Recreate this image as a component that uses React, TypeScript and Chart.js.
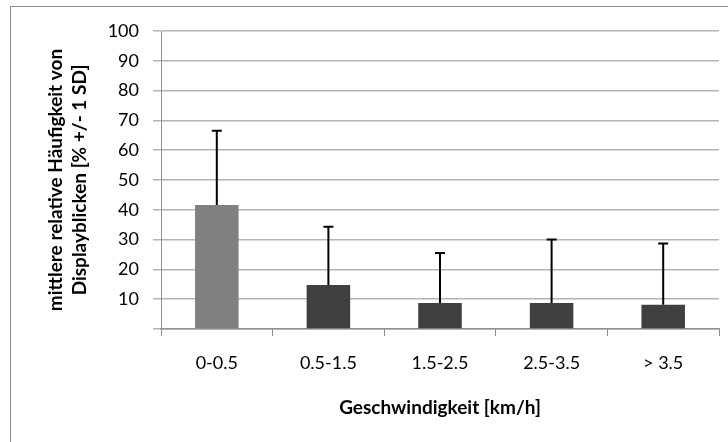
import { Chart, registerables } from 'chart.js'
import { useEffect, useRef } from 'react'

Chart.register(...registerables)

const speedBins = ['0-0.5', '0.5-1.5', '1.5-2.5', '2.5-3.5', '> 3.5']
const meanGlances = [41.6, 14.8, 8.7, 8.7, 8.1]
const sdGlances = [24.9, 19.5, 16.8, 21.3, 20.6]
const barColors = ['#808080', '#404040', '#404040', '#404040', '#404040']

const FONT = 'Lato, "Open Sans", sans-serif'

// draws the +1 SD whisker above each bar
const errorBars = {
  id: 'errorBars',
  afterDatasetsDraw(chart: Chart) {
    const { ctx } = chart
    const yScale = chart.scales.y
    const meta = chart.getDatasetMeta(0)
    ctx.save()
    ctx.strokeStyle = '#000000'
    ctx.lineWidth = 2
    meta.data.forEach((bar: any, i: number) => {
      const top = yScale.getPixelForValue(meanGlances[i] + sdGlances[i])
      ctx.beginPath()
      ctx.moveTo(bar.x, bar.y)
      ctx.lineTo(bar.x, top)
      ctx.moveTo(bar.x - 5, top)
      ctx.lineTo(bar.x + 5, top)
      ctx.stroke()
    })
    ctx.restore()
  },
}

export default function App() {
  const chartRef = useRef<HTMLCanvasElement>(null)
  const chartInstance = useRef<Chart | null>(null)

  useEffect(() => {
    if (!chartRef.current) return
    if (chartInstance.current) chartInstance.current.destroy()

    chartInstance.current = new Chart(chartRef.current, {
      type: 'bar',
      data: {
        labels: speedBins,
        datasets: [
          {
            data: meanGlances,
            backgroundColor: barColors,
            categoryPercentage: 1,
            barPercentage: 0.39,
          },
        ],
      },
      options: {
        responsive: true,
        maintainAspectRatio: false,
        animation: false,
        layout: { padding: { top: 31, right: 9, left: 0, bottom: 0 } },
        plugins: {
          legend: { display: false },
          tooltip: { enabled: false },
        },
        scales: {
          x: {
            afterFit: (scale: any) => {
              scale.height = 113
            },
            grid: {
              offset: true,
              drawOnChartArea: false,
              drawTicks: true,
              tickLength: 7,
              color: '#909090',
              lineWidth: 1,
            },
            border: { color: '#909090', width: 1.5 },
            ticks: {
              color: '#000000',
              padding: 16,
              font: { family: FONT, size: 18 },
            },
            title: {
              display: true,
              text: 'Geschwindigkeit [km/h]',
              color: '#000000',
              font: { family: FONT, size: 19, weight: 'bold' },
              padding: { top: 0, bottom: 23 },
            },
          },
          y: {
            min: 0,
            max: 100,
            afterFit: (scale: any) => {
              scale.width = 161
            },
            grid: {
              color: '#b4b4b4',
              lineWidth: 1.5,
              tickLength: 8,
            },
            border: { color: '#909090', width: 1 },
            ticks: {
              stepSize: 10,
              color: '#000000',
              padding: 14,
              font: { family: FONT, size: 18 },
              callback: (v: any) => (v === 0 ? '' : v),
            },
            title: {
              display: true,
              text: ['mittlere relative Häufigkeit von', 'Displayblicken [% +/- 1 SD]'],
              color: '#000000',
              font: { family: FONT, size: 19, weight: 'bold', lineHeight: 1.26 },
              padding: { top: 44, bottom: 0 },
            },
          },
        },
      },
      plugins: [errorBars],
    })

    return () => {
      if (chartInstance.current) {
        chartInstance.current.destroy()
        chartInstance.current = null
      }
    }
  }, [])

  return (
    <div style={{ position: 'fixed', left: 0, top: 0, width: 728, height: 442, background: '#ffffff', overflow: 'hidden' }}>
      <div
        style={{
          position: 'absolute',
          left: 10,
          top: 6,
          width: 760,
          height: 480,
          border: '1.5px solid #8c8c8c',
        }}
      />
      <div style={{ position: 'absolute', left: 0, top: 0, width: 728, height: 442 }}>
        <canvas ref={chartRef}></canvas>
      </div>
    </div>
  )
}
